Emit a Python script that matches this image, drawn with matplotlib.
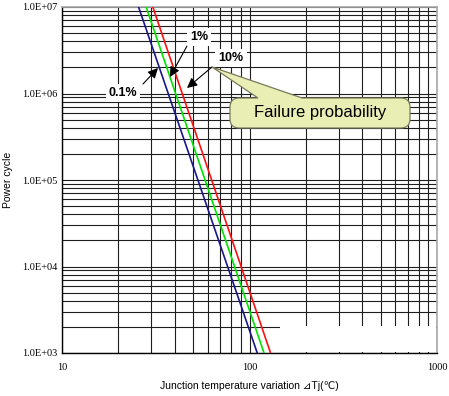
import matplotlib
matplotlib.use("Agg")
import matplotlib.pyplot as plt
import numpy as np
from matplotlib.path import Path
from matplotlib.patches import PathPatch, Rectangle
from matplotlib.ticker import LogLocator, FixedLocator, NullFormatter

# ---- data ----
cycles = [1e7, 1e3]
dtj_p01 = [25.6, 110.0]   # 0.1 %
dtj_p1 = [28.1, 119.5]    # 1 %
dtj_p10 = [30.5, 129.5]   # 10 %
series_labels = ["0.1%", "1%", "10%"]
x_ticks = [10, 100, 1000]
x_tick_labels = ["10", "100", "1000"]
y_ticks = [1e3, 1e4, 1e5, 1e6, 1e7]
y_tick_labels = ["1.0E+03", "1.0E+04", "1.0E+05", "1.0E+06", "1.0E+07"]

W, H = 449, 396
fig = plt.figure(figsize=(W / 100, H / 100), dpi=100)
L, R, T, B = 62, 437, 7, 353
ax = fig.add_axes([L / W, 1 - B / H, (R - L) / W, (B - T) / H])
ax.set_xscale("log")
ax.set_yscale("log")
ax.set_xlim(10, 1000)
ax.set_ylim(1e3, 1e7)

serif = ["Liberation Serif", "DejaVu Serif"]
sans = ["Liberation Sans", "DejaVu Sans"]

ax.set_xticks(x_ticks)
ax.set_xticklabels(x_tick_labels, family=serif, fontsize=7.5)
ax.set_yticks(y_ticks)
ax.set_yticklabels(y_tick_labels, family=serif, fontsize=7.5)
ax.xaxis.set_minor_locator(LogLocator(base=10, subs=np.arange(2, 10)))
ax.yaxis.set_minor_locator(LogLocator(base=10, subs=np.arange(2, 10)))
ax.xaxis.set_minor_formatter(NullFormatter())
ax.yaxis.set_minor_formatter(NullFormatter())
ax.tick_params(which="both", length=0)
ax.tick_params(axis="x", pad=7)
ax.tick_params(axis="y", pad=3)
ax.grid(True, which="both", color="#1e1e1e", lw=0.8)

for s in ["left", "bottom"]:
    ax.spines[s].set_color("black")
    ax.spines[s].set_linewidth(1.0)
for s in ["top", "right"]:
    ax.spines[s].set_color("#a8a8a8")
    ax.spines[s].set_linewidth(1.2)

# white patch covering grid at the bottom right (as in the reference)
ax.add_patch(Rectangle(((280 - L) / (R - L), 0.004), 1 - (280 - L) / (R - L) - 0.004,
                       (B - 326) / (B - T) - 0.004, transform=ax.transAxes,
                       fc="white", ec="none", zorder=1.8))

ax.plot(dtj_p01, cycles, color="#17178a", lw=1.2, zorder=3)
ax.plot(dtj_p1, cycles, color="#00e400", lw=1.2, zorder=3)
ax.plot(dtj_p10, cycles, color="#ff1010", lw=1.2, zorder=3)


def px2data(px, py):
    x = 10 ** (1 + 2 * (px - L) / (R - L))
    y = 10 ** (7 - 4 * (py - T) / (B - T))
    return x, y


arrow_kw = dict(arrowstyle="-|>,head_length=0.6,head_width=0.3", color="black",
                lw=0.8, shrinkA=0, shrinkB=0)
box_kw = dict(boxstyle="square,pad=0.25", fc="white", ec="none")

# labels with arrows
ax.annotate("", xy=px2data(158, 68), xytext=px2data(143, 84), arrowprops=arrow_kw, zorder=5)
ax.annotate("", xy=px2data(170, 77), xytext=px2data(187, 46), arrowprops=arrow_kw, zorder=5)
ax.annotate("", xy=px2data(187, 88), xytext=px2data(212, 67), arrowprops=arrow_kw, zorder=5)

for lab, (px, py) in zip(series_labels, [(123, 93), (199, 37), (231, 58)]):
    ax.text(*px2data(px, py), lab, ha="center", va="center", fontsize=9,
            fontweight="bold", family=sans, bbox=box_kw, zorder=6)

# callout "Failure probability"
def fp(px, py):
    return (px / W, 1 - py / H)

x0, y0, x1, y1, r = 230, 98, 410, 128, 9
verts = [fp(x0 + r, y0), fp(258, y0), fp(212, 67), fp(302, y0), fp(x1 - r, y0),
         fp(x1, y0), fp(x1, y0 + r),
         fp(x1, y1 - r),
         fp(x1, y1), fp(x1 - r, y1),
         fp(x0 + r, y1),
         fp(x0, y1), fp(x0, y1 - r),
         fp(x0, y0 + r),
         fp(x0, y0), fp(x0 + r, y0),
         fp(x0 + r, y0)]
codes = [Path.MOVETO, Path.LINETO, Path.LINETO, Path.LINETO, Path.LINETO,
         Path.CURVE3, Path.CURVE3,
         Path.LINETO,
         Path.CURVE3, Path.CURVE3,
         Path.LINETO,
         Path.CURVE3, Path.CURVE3,
         Path.LINETO,
         Path.CURVE3, Path.CURVE3,
         Path.CLOSEPOLY]
ax.add_patch(PathPatch(Path(verts, codes), transform=fig.transFigure, fc="#e9efb4",
                       ec="#7a7a5a", lw=0.9, zorder=7, clip_on=False))
fig.text(320 / W, 1 - 113 / H, "Failure probability", ha="center", va="center",
         fontsize=12, family=sans, zorder=8)

fig.text(249 / W, 1 - 386 / H, "Junction temperature variation \u22bfTj(\u2103)",
         ha="center", va="center", fontsize=7.5, family=sans)
fig.text(8 / W, 1 - 180 / H, "Power cycle", ha="center", va="center",
         rotation=90, fontsize=7.5, family=sans)

fig.savefig("out.png", dpi=100)
